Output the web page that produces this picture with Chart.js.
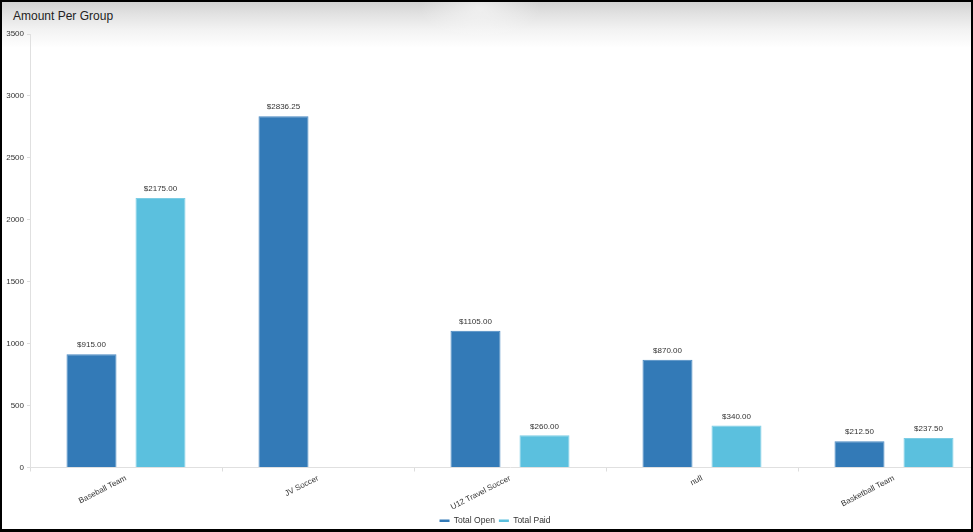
<!DOCTYPE html>
<html>
<head>
<meta charset="utf-8">
<script src="https://cdn.jsdelivr.net/npm/chart.js@4/dist/chart.umd.min.js"></script>
<style>
  html, body { margin: 0; padding: 0; background: #fff; }
  body { width: 973px; height: 532px; overflow: hidden; position: relative; font-family: "Liberation Sans", Arial, sans-serif; }
  #shade { position: absolute; left: 0; top: 0; width: 973px; height: 50px;
    background:
      radial-gradient(ellipse 60px 30px at 480px 8px, rgba(255,255,255,0.55), rgba(255,255,255,0)),
      linear-gradient(to bottom, #cfcfcf 0px, #e2e2e2 14px, #f3f3f3 30px, #ffffff 48px); }
  #title { position: absolute; left: 13px; top: 9px; font-size: 12px; color: #222; }
  #wrap { position: absolute; left: 0; top: 0; width: 996px; height: 535px; }
  #frame { position: absolute; left: 0; top: 0; width: 973px; height: 532px; box-sizing: border-box;
    border: 2px solid #000; border-bottom-width: 3px; border-right-width: 2px; pointer-events: none; }
</style>
</head>
<body>
<div id="shade"></div>
<div id="title">Amount Per Group</div>
<div id="wrap"><canvas id="c" width="996" height="535"></canvas></div>
<div id="frame"></div>
<script>
const categories = ["Baseball Team", "JV Soccer", "U12 Travel Soccer", "null", "Basketball Team"];
const totalOpen = [915.00, 2836.25, 1105.00, 870.00, 212.50];
const totalPaid = [2175.00, 0, 260.00, 340.00, 237.50];
const yTicks = [0, 500, 1000, 1500, 2000, 2500, 3000, 3500];

const FONT = '"Liberation Sans", Arial, sans-serif';

const valueLabels = {
  id: 'valueLabels',
  afterDatasetsDraw(chart) {
    const ctx = chart.ctx;
    ctx.save();
    ctx.font = '8px ' + FONT;
    ctx.fillStyle = '#333';
    ctx.textAlign = 'center';
    ctx.textBaseline = 'bottom';
    chart.data.datasets.forEach((ds, di) => {
      const meta = chart.getDatasetMeta(di);
      meta.data.forEach((bar, i) => {
        const v = ds.data[i];
        if (!v) return;
        ctx.fillText('$' + v.toFixed(2), bar.x, bar.y - 5);
      });
    });
    ctx.restore();
  }
};

new Chart(document.getElementById('c'), {
  type: 'bar',
  data: {
    labels: categories,
    datasets: [
      { label: 'Total Open', data: totalOpen, backgroundColor: '#337ab7', borderColor: '#4a89c2', borderWidth: 1, borderSkipped: 'bottom' },
      { label: 'Total Paid', data: totalPaid, backgroundColor: '#5bc0de', borderColor: '#7ccde5', borderWidth: 1, borderSkipped: 'bottom' }
    ]
  },
  options: {
    responsive: false,
    animation: false,
    devicePixelRatio: 1,
    layout: { padding: { top: 34, right: 6, left: 0, bottom: 0 } },
    categoryPercentage: 0.71875,
    barPercentage: 0.7246,
    plugins: {
      title: { display: false },
      tooltip: { enabled: false },
      legend: {
        position: 'bottom',
        labels: {
          usePointStyle: true,
          pointStyle: 'line',
          pointStyleWidth: 10,
          boxHeight: 8,
          padding: 4,
          color: '#333',
          font: { size: 8.5, family: FONT },
          generateLabels(chart) {
            return chart.data.datasets.map((ds, i) => ({
              text: ds.label,
              fillStyle: ds.backgroundColor,
              strokeStyle: ds.backgroundColor,
              lineWidth: 2.5,
              pointStyle: 'line',
              fontColor: '#333',
              hidden: false,
              datasetIndex: i
            }));
          }
        }
      }
    },
    scales: {
      x: {
        offset: true,
        grid: { offset: true, drawOnChartArea: false, drawTicks: true, tickLength: 4, color: '#ddd' },
        border: { display: true, color: '#e0e0e0', width: 1 },
        ticks: {
          autoSkip: false, minRotation: 27, maxRotation: 27, padding: 2,
          color: '#333', font: { size: 8, family: FONT }
        },
        afterFit(scale) { scale.height = 45; }
      },
      y: {
        min: 0, max: 3500,
        afterBuildTicks(scale) { scale.ticks = yTicks.map(v => ({ value: v })); },
        grid: { drawOnChartArea: false, drawTicks: true, tickLength: 3, color: '#ddd' },
        border: { display: true, color: '#e0e0e0', width: 1 },
        ticks: { padding: 3, color: '#333', font: { size: 8, family: FONT }, callback: (v) => String(v) },
        afterFit(scale) { scale.width = 30; }
      }
    }
  },
  plugins: [valueLabels]
});
</script>
</body>
</html>
